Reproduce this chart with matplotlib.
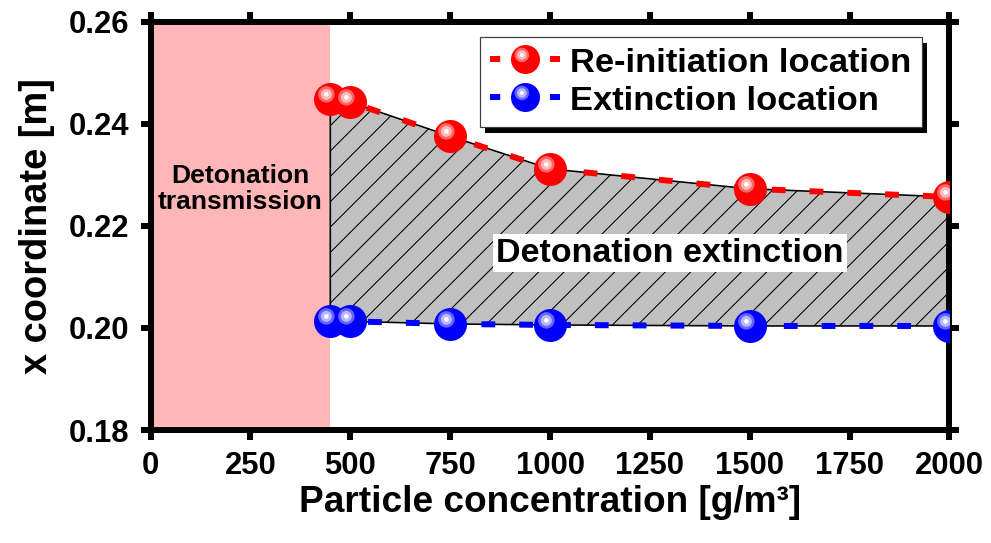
import matplotlib
matplotlib.use('Agg')
import matplotlib.pyplot as plt
from matplotlib.path import Path
from matplotlib.lines import Line2D
from matplotlib.patches import Rectangle
from matplotlib.transforms import IdentityTransform
from matplotlib.legend_handler import HandlerTuple
from matplotlib.colors import to_rgb

# figure drawn at 76 dpi so the '/' hatch spacing comes out ~13 px
DPI = 76

def pt(px):
    # pixel size -> points
    return px * 72.0 / DPI

# ---- data ----
conc = [450, 500, 750, 1000, 1500, 2000]                      # g/m^3
reinit_x = [0.2449, 0.2443, 0.2376, 0.2312, 0.2273, 0.2257]   # m
extinct_x = [0.2014, 0.2013, 0.2008, 0.2006, 0.2004, 0.2004]  # m
transmission_limit = 450

xticks = [0, 250, 500, 750, 1000, 1250, 1500, 1750, 2000]
yticks = [0.18, 0.20, 0.22, 0.24, 0.26]
ytick_labels = ['0.18', '0.20', '0.22', '0.24', '0.26']

plt.rcParams['font.family'] = 'Liberation Sans'
plt.rcParams['font.weight'] = 'bold'
plt.rcParams['axes.labelweight'] = 'bold'


def sphere_path(cx, cy, r):
    # circle inside a unit frame; ghost point keeps every layer on the same scale
    return Path.make_compound_path(Path([[1.0, 0.0]]), Path.circle((cx, cy), r))


def lighten(c, f):
    r, g, b = to_rgb(c)
    return (r + (1 - r) * f, g + (1 - g) * f, b + (1 - b) * f)


def sphere_layers(color):
    return [
        (sphere_path(0, 0, 1.0), color),
        (sphere_path(-0.25, 0.31, 0.50), lighten(color, 0.4)),
        (sphere_path(-0.25, 0.31, 0.33), lighten(color, 0.72)),
        (sphere_path(-0.25, 0.31, 0.14), (1, 1, 1)),
    ]


fig = plt.figure(figsize=(991 / DPI, 543 / DPI), dpi=DPI)
ax = fig.add_axes([0.1519, 0.2081, 0.8062, 0.7514])

# transmission region
ax.axvspan(0, transmission_limit, color='#ffb6b6', lw=0, zorder=1)

# extinction region
ax.fill_between(conc, extinct_x, reinit_x, facecolor='#c0c0c0', edgecolor='black',
                hatch='/', linewidth=pt(1.6), zorder=2)

lw = pt(6)
handles = []
for vals, color in [(reinit_x, 'red'), (extinct_x, 'blue')]:
    ax.plot(conc, vals, color=color, lw=lw, dashes=(2.3, 4.0), zorder=3)
    layers = []
    for path, c in sphere_layers(color):
        ax.plot(conc, vals, ls='none', marker=path, ms=pt(33), mfc=c, mec='none', mew=0, zorder=4)
        layers.append(Line2D([], [], ls='none', marker=path, ms=pt(29), mfc=c, mec='none', mew=0))
    leg_line = Line2D([], [], color=color, lw=lw, dashes=(1.7, 8.3))
    handles.append(tuple([leg_line] + layers))

ax.text(1300, 0.2147, 'Detonation extinction', ha='center', va='center', fontsize=pt(34),
        bbox=dict(facecolor='white', edgecolor='none', pad=pt(3)), zorder=5)
ax.text(224, 0.2273, 'Detonation\ntransmission', ha='center', va='center', fontsize=pt(26.5),
        linespacing=1.1, zorder=5)

leg = ax.legend(handles, ['Re-initiation location', 'Extinction location'],
                handler_map={tuple: HandlerTuple(ndivide=1, pad=0)},
                loc='upper right', bbox_to_anchor=(0.9656, 0.9632), borderaxespad=0,
                prop=dict(family='Liberation Sans', weight='bold', size=pt(34.5)),
                handlelength=2.03, handletextpad=0.29, borderpad=0.3, labelspacing=0.2,
                fancybox=False, framealpha=1, edgecolor='#404040')
leg.get_frame().set_linewidth(pt(1.2))
leg.set_zorder(6)

ax.set_xlim(0, 2000)
ax.set_ylim(0.18, 0.26)
ax.set_xticks(xticks)
ax.set_yticks(yticks)
ax.set_yticklabels(ytick_labels)

for s in ax.spines.values():
    s.set_linewidth(pt(6))
ax.tick_params(which='major', direction='out', length=pt(10), width=pt(6),
               labelsize=pt(31), pad=pt(11), top=True, right=True)

ax.set_xlabel('Particle concentration [g/m³]', fontsize=pt(37), labelpad=pt(4))
ax.set_ylabel('x coordinate [m]', fontsize=pt(38), labelpad=pt(14))

# solid black legend shadow
fig.canvas.draw()
bb = leg.get_window_extent()
ax.add_patch(Rectangle((bb.x0 + 5, bb.y0 - 6), bb.width, bb.height, transform=IdentityTransform(),
                       facecolor='black', edgecolor='none', zorder=5.9))

fig.savefig('out.png', dpi=DPI)
